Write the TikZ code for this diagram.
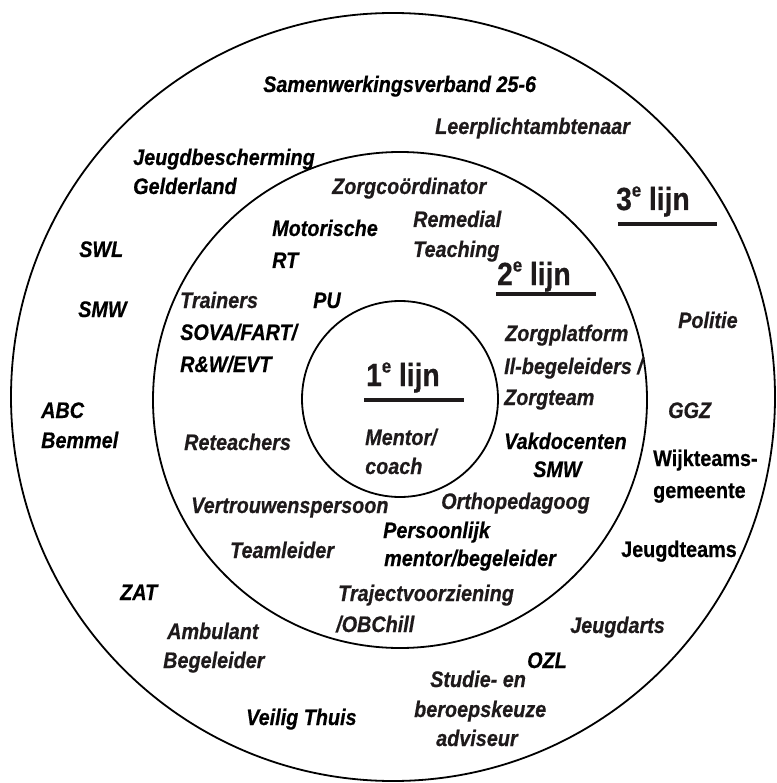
\documentclass[tikz,border=0pt]{standalone}
\usepackage{fontspec}
\setmainfont[FakeStretch=0.88,
  BoldFeatures={FakeBold=0.5},
  BoldItalicFeatures={FakeBold=0.5}]{Liberation Sans}
\definecolor{ink}{HTML}{000000}
\definecolor{soft}{HTML}{1E1A1B}
\begin{document}
\begin{tikzpicture}[x=1pt,y=-1pt,
  ring/.style={draw=black, line width=1.8pt},
  bar/.style={line width=4.5pt, draw=soft},
  lbl/.style={font=\bfseries\itshape\fontsize{22.5}{26}\selectfont, inner sep=0pt, anchor=base west, text=ink},
  slbl/.style={lbl, text=soft},
  ulbl/.style={font=\bfseries\fontsize{22.5}{26}\selectfont, inner sep=0pt, anchor=base west, text=ink},
  lijn/.style={font=\bfseries\fontsize{32}{34}\selectfont, inner sep=0pt, anchor=base west, text=soft}]
\useasboundingbox (0,0) rectangle (776,783);
% rings
\draw[ring] (393,397) ellipse [x radius=382, y radius=384];
\draw[ring] (400,400) ellipse [x radius=247, y radius=248];
\draw[ring] (400,399) ellipse [x radius=98, y radius=98];
% level titles
\node[lijn] (l3) at (616,210) {3\raisebox{0.42em}{\fontsize{19}{19}\selectfont e} lijn};
\draw[bar] (618,224) -- (717,224);
\node[lijn] (l2) at (497,285) {2\raisebox{0.42em}{\fontsize{19}{19}\selectfont e} lijn};
\draw[bar] (496,294) -- (596,294);
\node[lijn] (l1) at (366,386) {1\raisebox{0.42em}{\fontsize{19}{19}\selectfont e} lijn};
\draw[bar] (364,400) -- (464,400);
% outer ring
\node[lbl] (swv) at (263,92) {Samenwerkingsverband 25-6};
\node[slbl] (lpa) at (435,134) {Leerplichtambtenaar};
\node[lbl] (jb1) at (133,165) {Jeugdbescherming};
\node[lbl] (jb2) at (133,194) {Gelderland};
\node[lbl] (swl) at (79,257) {SWL};
\node[lbl] (smw) at (78,317) {SMW};
\node[slbl] (pol) at (678,328) {Politie};
\node[lbl] (abc1) at (41,418) {ABC};
\node[lbl] (abc2) at (41,448) {Bemmel};
\node[slbl] (ggz) at (668,418) {GGZ};
\node[ulbl] (wk1) at (653,466) {Wijkteams-};
\node[ulbl] (wk2) at (653,498) {gemeente};
\node[ulbl] (jt) at (621,557) {Jeugdteams};
\node[lbl] (zat) at (120,600) {ZAT};
\node[slbl] (ja) at (570,633) {Jeugdarts};
\node[slbl] (ab1) at (167,639) {Ambulant};
\node[slbl] (ab2) at (163,668) {Begeleider};
\node[lbl] (ozl) at (527,668) {OZL};
\node[slbl] (sb1) at (430,687) {Studie- en};
\node[slbl] (sb2) at (414,717) {beroepskeuze};
\node[slbl] (sb3) at (436,746) {adviseur};
\node[lbl] (vt) at (246,725) {Veilig Thuis};
% middle ring
\node[slbl] (zc) at (332,194) {Zorgco\"ordinator};
\node[slbl] (rt1) at (413,227) {Remedial};
\node[slbl] (rt2) at (413,257) {Teaching};
\node[lbl] (mo1) at (272,236) {Motorische};
\node[lbl] (mo2) at (272,268) {RT};
\node[slbl] (tr1) at (180,308) {Trainers};
\node[lbl] (pu) at (313,308) {PU};
\node[lbl] (tr2) at (180,340) {SOVA/FART/};
\node[lbl] (tr3) at (180,372) {R\&W/EVT};
\node[slbl] (zp1) at (505,341) {Zorgplatform};
\node[slbl] (zp2) at (504,374) {Il-begeleiders /};
\node[slbl] (zp3) at (504,405) {Zorgteam};
\node[lbl] (vd1) at (504,449) {Vakdocenten};
\node[lbl] (vd2) at (533,477) {SMW};
\node[slbl] (ret) at (184,450) {Reteachers};
\node[slbl] (vp) at (191,513) {Vertrouwenspersoon};
\node[slbl] (op) at (441,509) {Orthopedagoog};
\node[lbl] (pm1) at (383,538) {Persoonlijk};
\node[lbl] (pm2) at (384,566) {mentor/begeleider};
\node[slbl] (tl) at (230,558) {Teamleider};
\node[slbl] (tv1) at (338,601) {Trajectvoorziening};
\node[slbl] (tv2) at (336,632) {/OBChill};
% inner ring
\node[slbl] (me1) at (365,445) {Mentor/};
\node[slbl] (me2) at (365,474) {coach};
\end{tikzpicture}
\end{document}
